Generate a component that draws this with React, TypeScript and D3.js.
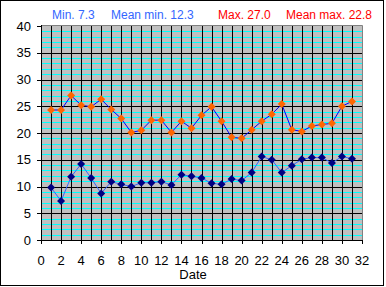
import React from "react";
import * as d3 from "d3";

// daily temperatures for the month
const days = d3.range(1, 32);
const maxTemps = [24.3, 24.3, 27.0, 25.2, 24.9, 26.3, 24.4, 22.7, 20.1, 20.5, 22.4, 22.4, 20.1, 22.2, 20.9, 23.3, 24.9, 22.2, 19.2, 19.0, 20.6, 22.2, 23.5, 25.4, 20.6, 20.3, 21.3, 21.6, 21.8, 25.0, 25.9];
const minTemps = [9.8, 7.3, 11.8, 14.2, 11.6, 8.7, 10.9, 10.4, 10.0, 10.7, 10.7, 10.9, 10.3, 12.2, 11.9, 11.6, 10.6, 10.4, 11.4, 11.1, 12.6, 15.6, 15.0, 12.6, 13.9, 15.1, 15.4, 15.4, 14.4, 15.6, 15.2];
const yTicks = [0, 5, 10, 15, 20, 25, 30, 35, 40];
const xTicks = [0, 2, 4, 6, 8, 10, 12, 14, 16, 18, 20, 22, 24, 26, 28, 30, 32];
const headerItems = [
  { label: "Min. 7.3", x: 52, color: "#3366FF" },
  { label: "Mean min. 12.3", x: 111, color: "#3366FF" },
  { label: "Max. 27.0", x: 218, color: "#FF0000" },
  { label: "Mean max. 22.8", x: 286, color: "#FF0000" },
];

const W = 386;
const H = 287;
const font = "'Liberation Sans', Arial, sans-serif";

const App = () => {
  const x = d3.scaleLinear().domain([0, 32]).range([41, 362]);
  const y = d3.scaleLinear().domain([0, 40]).range([240, 26]);
  const px = (v: number) => Math.round(v) + 0.5;

  const maxLine = d3.line<number>()
    .x((_, i) => x(days[i]))
    .y(d => y(d));
  const minLine = d3.line<number>()
    .x((_, i) => x(days[i]))
    .y(d => y(d));

  const diamond = (cx: number, cy: number, r: number) =>
    `M${cx},${cy - r}L${cx + r},${cy}L${cx},${cy + r}L${cx - r},${cy}Z`;

  const minorY = d3.range(1, 40).filter(v => v % 5 !== 0);
  const majorY = d3.range(5, 40, 5);

  return (
    <svg width={W} height={H} style={{ position: "absolute", left: 0, top: 0, background: "#fff" }}
      fontFamily={font}>
      <rect x={0.5} y={0.5} width={383} height={285} fill="#fff" stroke="#000" />

      {headerItems.map(h => (
        <text key={h.label} x={h.x} y={19} fontSize={12} fill={h.color}>{h.label}</text>
      ))}

      {/* plot area */}
      <rect x={x(0)} y={y(40)} width={x(32) - x(0)} height={y(0) - y(40)} fill="#C0C0C0" />
      {minorY.map(v => (
        <line key={"c" + v} x1={x(0)} x2={x(32)} y1={px(y(v))} y2={px(y(v))} stroke="#00FFFF" />
      ))}
      {days.map(d => (
        <line key={"v" + d} x1={px(x(d))} x2={px(x(d))} y1={y(40)} y2={y(0)} stroke="#000" />
      ))}
      {majorY.map(v => (
        <line key={"h" + v} x1={x(0)} x2={x(32)} y1={px(y(v))} y2={px(y(v))} stroke="#000" />
      ))}
      <path d={`M${px(x(0))},${px(y(40)) - 1}H${px(x(32))}V${px(y(0))}`} fill="none" stroke="#808080" />

      {/* axes */}
      <line x1={px(x(0))} x2={px(x(0))} y1={y(40) - 1} y2={px(y(0))} stroke="#000" />
      <line x1={x(0)} x2={x(32) + 1} y1={px(y(0))} y2={px(y(0))} stroke="#000" />
      {yTicks.map(v => (
        <g key={"yt" + v}>
          <line x1={x(0) - 4} x2={x(0)} y1={px(y(v))} y2={px(y(v))} stroke="#000" />
          <text x={31} y={y(v) + 4.5} fontSize={13} textAnchor="end" fill="#000">{v}</text>
        </g>
      ))}
      {xTicks.map(v => (
        <g key={"xt" + v}>
          <line x1={px(x(v))} x2={px(x(v))} y1={y(0)} y2={y(0) + 4} stroke="#000" />
          <text x={x(v)} y={265} fontSize={13} textAnchor="middle" fill="#000">{v}</text>
        </g>
      ))}
      <text x={193} y={279} fontSize={13} textAnchor="middle" fill="#000">Date</text>

      {/* series */}
      <path d={maxLine(maxTemps) ?? ""} fill="none" stroke="#0000FF" strokeWidth={1} />
      {maxTemps.map((v, i) => (
        <path key={"mx" + i} d={diamond(x(days[i]), y(v), 4)} fill="#FF6600" />
      ))}
      <path d={minLine(minTemps) ?? ""} fill="none" stroke="#3366FF" strokeWidth={1} />
      {minTemps.map((v, i) => (
        <path key={"mn" + i} d={diamond(x(days[i]), y(v), 4)} fill="#000080" />
      ))}
    </svg>
  );
};

export default App;
